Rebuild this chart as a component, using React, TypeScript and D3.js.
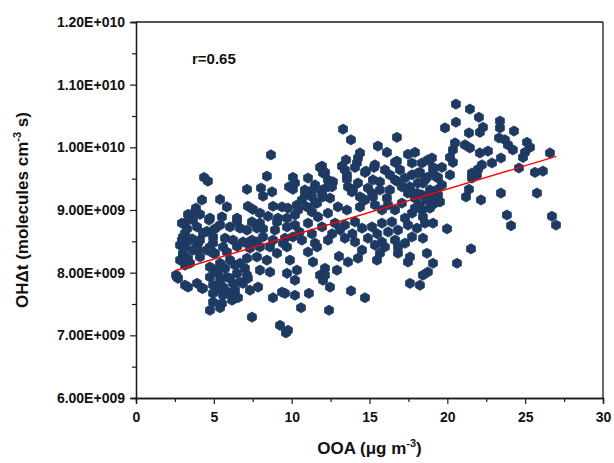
import * as d3 from 'd3';
import { useEffect, useRef } from 'react';

// OOA (ug m-3) vs OH exposure (x1e9 molecules cm-3 s)
const lowOOA: [number, number][] = [
  [8.67,9.88],[4.37,9.52],[4.62,9.46],[8.41,9.54],[9.83,9.37],[10.08,9.33],[7.13,9.33],[8.03,9.35],[8.74,9.29],[8.16,9.22],
  [4.24,9.16],[5.40,9.17],[5.84,9.05],[7.19,9.06],[7.51,9.01],[7.96,8.95],[8.80,9.06],[9.38,9.05],[9.76,9.03],[3.85,9.03],
  [3.34,8.93],[4.11,8.93],[3.79,8.97],[4.75,8.87],[5.52,8.89],[6.49,8.87],[8.48,8.90],[9.12,8.87],[3.66,8.84],[4.69,8.84],
  [5.40,8.76],[6.49,8.82],[7.45,8.81],[7.96,8.79],[9.06,8.81],[9.70,8.87],[10.21,8.92],[3.15,8.79],[3.28,8.70],[3.92,8.73],
  [4.56,8.66],[5.07,8.70],[6.04,8.73],[6.68,8.71],[7.13,8.68],[7.77,8.71],[8.16,8.70],[8.93,8.68],[9.70,8.73],[10.21,8.76],
  [3.02,8.57],[3.60,8.54],[4.11,8.52],[4.95,8.57],[5.72,8.55],[6.23,8.52],[6.87,8.49],[7.45,8.52],[8.16,8.57],[8.80,8.52],
  [9.57,8.55],[10.08,8.57],[3.15,8.41],[3.92,8.41],[4.75,8.41],[5.59,8.41],[6.49,8.42],[7.32,8.39],[7.96,8.41],[8.61,8.41],
  [9.70,8.41],[2.63,7.93],[2.83,8.44],[3.28,8.49],[3.66,8.36],[3.02,8.28],[4.11,8.25],[3.47,8.15],[4.95,8.47],[5.07,8.31],
  [5.84,8.33],[7.13,8.47],[7.77,8.49],[9.44,8.47],[4.75,8.09],[5.40,8.15],[6.04,8.20],[6.68,8.15],[7.13,8.23],[7.77,8.25],
  [8.41,8.20],[9.06,8.31],[9.89,8.20],[4.75,7.93],[5.27,7.99],[5.84,7.93],[6.49,7.99],[7.13,7.96],[7.96,8.04],[8.61,8.01],
  [9.70,7.99],[10.34,8.04],[3.34,7.77],[3.92,7.83],[4.30,7.75],[4.95,7.80],[5.59,7.77],[6.23,7.83],[6.87,7.83],[7.32,7.72],
  [7.84,7.77],[4.95,7.67],[5.59,7.64],[6.04,7.67],[6.55,7.60],[4.95,7.53],[5.40,7.44],[4.75,7.40],[7.45,7.29],[8.80,7.60],
  [9.38,7.69],[9.57,7.67],[10.21,7.64],[10.60,7.44],[9.25,7.16],[9.63,7.04],[9.76,7.08],[2.57,7.96],[2.70,7.91],[4.24,7.75],
  [3.15,7.80],[2.95,8.79],[3.15,8.63],[2.95,8.52],[3.02,8.31],[3.34,8.23],[2.83,8.20],[3.15,8.12],[4.30,8.63],[3.98,8.47],
  [3.98,8.36],[4.56,8.36],[4.95,8.31],[5.07,8.04],[5.72,8.07],[6.36,8.12],[7.00,8.07],[5.40,7.88],[6.04,7.91],[6.68,7.85],
  [7.19,7.91],[5.72,7.72],[5.27,7.75],[6.36,7.72],[6.17,7.56],[5.52,7.51]
];

const midOOA: [number, number][] = [
  [13.30,10.29],[13.81,10.12],[16.76,10.16],[15.54,10.02],[16.12,9.92],[14.39,9.91],[16.76,9.78],[14.26,9.83],[14.19,9.75],[13.49,9.80],
  [13.23,9.70],[17.47,9.89],[17.92,9.92],[19.01,9.83],[17.73,9.75],[11.95,9.70],[12.01,9.59],[14.77,9.62],[15.29,9.68],[10.08,9.52],
  [11.05,9.51],[16.76,9.46],[13.42,9.64],[13.55,9.49],[13.62,9.37],[13.87,9.29],[12.65,9.45],[12.33,9.37],[11.95,9.32],[11.37,9.32],
  [11.30,9.21],[10.85,9.24],[15.22,9.48],[15.67,9.45],[14.90,9.35],[15.67,9.32],[16.31,9.32],[16.12,9.19],[15.22,9.21],[14.39,9.21],
  [14.39,9.05],[19.08,9.68],[19.33,9.52],[18.69,9.52],[18.24,9.60],[18.43,9.43],[17.60,9.37],[18.05,9.27],[18.88,9.32],[19.33,9.32],
  [10.34,9.08],[10.98,9.05],[11.63,9.11],[12.01,9.21],[16.64,9.76],[18.37,9.75],[18.75,9.80],[11.82,9.68],[12.14,9.60],[14.07,9.68],
  [14.71,9.60],[15.35,9.72],[10.21,9.43],[11.50,9.40],[12.33,9.48],[12.59,9.37],[13.55,9.56],[13.94,9.32],[14.26,9.43],[15.16,9.27],
  [16.64,9.48],[17.08,9.37],[17.73,9.56],[18.11,9.59],[19.08,9.59],[10.85,9.32],[11.95,9.24],[12.46,9.19],[11.50,9.11],[10.66,9.16],
  [10.41,9.00],[11.30,8.97],[11.69,8.89],[12.33,8.95],[12.97,9.05],[13.55,9.00],[14.71,9.16],[15.35,9.08],[15.80,9.00],[16.19,9.08],
  [16.64,9.00],[17.08,9.11],[17.47,9.27],[17.92,9.19],[18.37,9.24],[18.88,9.21],[19.01,9.08],[18.37,9.00],[17.73,8.95],[17.28,8.87],
  [11.05,8.79],[11.95,8.73],[12.78,8.79],[13.42,8.76],[14.07,8.81],[14.52,8.71],[15.16,8.73],[15.80,8.79],[16.44,8.81],[16.83,8.68],
  [17.47,8.76],[18.05,8.71],[18.56,8.79],[19.08,8.79],[10.66,8.52],[11.50,8.47],[12.33,8.52],[13.42,8.55],[14.07,8.49],[14.90,8.55],
  [15.80,8.49],[16.64,8.52],[17.28,8.47],[17.73,8.57],[18.43,8.55],[12.40,7.40],[11.11,7.67],[14.71,7.60],[13.81,7.71],[12.46,7.77],
  [12.01,7.88],[12.14,8.07],[12.91,8.04],[11.82,7.96],[13.04,8.26],[13.62,8.17],[14.26,8.23],[11.37,8.17],[10.21,7.88],[17.60,7.83],
  [18.24,7.80],[18.43,7.96],[18.75,8.01],[19.08,8.15],[18.69,8.31],[17.47,8.17],[16.83,8.31],[17.60,8.25],[15.48,8.20],[15.67,8.31],
  [14.52,8.36],[16.83,8.41],[15.99,8.41],[15.35,8.44],[11.63,8.41],[11.05,8.33],[12.14,7.96],
  [18.24,9.08],[17.92,9.03],[19.40,9.24],[19.65,9.40],[18.11,9.43],[17.28,9.51],[16.96,9.64],[16.31,9.56],[15.99,9.64],
  [10.50,8.65],[11.30,8.62],[12.60,8.62],[13.10,8.68],[13.90,8.62],[15.50,8.62],[16.20,8.65]
];

const highOOA: [number, number][] = [
  [20.55,10.69],[21.45,10.61],[22.03,10.48],[20.55,10.40],[19.85,10.31],[22.29,10.32],[22.09,10.24],[21.39,10.23],[23.38,10.42],[23.38,10.31],
  [24.28,10.26],[23.32,10.15],[23.70,10.12],[23.89,10.04],[24.21,9.96],[25.11,10.08],[25.31,10.00],[24.99,9.92],[24.86,9.84],[26.59,9.91],
  [20.49,10.07],[20.36,9.96],[20.17,9.84],[20.36,9.76],[21.13,10.04],[21.45,9.99],[22.09,9.91],[22.61,9.94],[22.87,9.75],[22.22,9.72],
  [21.97,9.65],[21.58,9.59],[21.58,9.51],[21.90,9.56],[23.44,9.83],[24.60,9.67],[25.63,9.60],[26.14,9.62],[19.65,9.68],[19.40,9.52],
  [20.17,9.56],[18.56,9.48],[18.69,9.16],[19.20,9.11],[19.53,9.13],[18.88,9.03],[18.43,8.89],[21.39,9.33],[21.20,9.21],[22.16,9.16],
  [23.44,9.27],[25.76,9.27],[23.83,8.92],[24.09,8.75],[26.72,8.90],[26.98,8.76],[19.98,8.70],[21.52,8.38],[20.62,8.15]
];

// linear fit drawn in the figure (r = 0.65)
const fitRange = [2.5, 27.0];
const fitSlope = 0.0745;
const fitIntercept = 7.844;

const xTicks = [0, 5, 10, 15, 20, 25, 30];
const yTicks = [6, 7, 8, 9, 10, 11, 12];

export default function App() {
  const svgRef = useRef<SVGSVGElement>(null);

  useEffect(() => {
    document.body.style.margin = '0';
    drawChart(svgRef.current!);
  }, []);

  return <svg ref={svgRef} width={614} height={463} style={{ display: 'block', background: '#fff' }} />;
}

function drawChart(el: SVGSVGElement) {
  const left = 136, right = 603, top = 22, bottom = 398;
  const font = "'Liberation Sans', Arial, sans-serif";
  const ink = '#1b1b1b';

  const svg = d3.select(el);
  svg.selectAll('*').remove();

  const x = d3.scaleLinear().domain([0, 30]).range([left, right]);
  const y = d3.scaleLinear().domain([6, 12]).range([bottom, top]);

  const sci = (v: number) => {
    const n = Math.round(v * 1e9);
    const e = Math.floor(Math.log10(n) + 1e-9);
    const m = n / Math.pow(10, e);
    return m.toFixed(2) + 'E+' + String(e).padStart(3, '0');
  };

  // frame
  svg.append('line').attr('x1', left).attr('x2', right).attr('y1', top).attr('y2', top)
    .attr('stroke', ink).attr('stroke-width', 1.3);
  svg.append('line').attr('x1', right).attr('x2', right).attr('y1', top).attr('y2', bottom)
    .attr('stroke', ink).attr('stroke-width', 1.3);

  const xAxis = svg.append('g').attr('transform', `translate(0,${bottom})`)
    .call(d3.axisBottom(x).tickValues(xTicks).tickSize(6).tickPadding(8).tickFormat(d3.format('d')));
  svg.append('g').attr('transform', `translate(0,${bottom})`)
    .call(d3.axisBottom(x).tickValues(xTicks.slice(0, -1).map(d => d + 2.5)).tickSize(4).tickFormat(() => ''));

  const yAxis = svg.append('g').attr('transform', `translate(${left},0)`)
    .call(d3.axisLeft(y).tickValues(yTicks).tickSize(6).tickPadding(5).tickFormat(d => sci(+d)));
  svg.append('g').attr('transform', `translate(${left},0)`)
    .call(d3.axisLeft(y).tickValues(yTicks.slice(0, -1).map(d => d + 0.5)).tickSize(4).tickFormat(() => ''));

  svg.selectAll('.domain').attr('stroke', ink).attr('stroke-width', 1.3);
  svg.selectAll('.tick line').attr('stroke', ink).attr('stroke-width', 1.2);
  [xAxis, yAxis].forEach(g => g.selectAll('text')
    .attr('font-family', font).attr('font-size', 14).attr('font-weight', 'bold').attr('fill', '#111'));

  // hexagon markers
  const r = 5.1;
  const hex = d3.line().curve(d3.curveLinearClosed)(
    d3.range(6).map(i => {
      const a = (Math.PI / 3) * i - Math.PI / 2;
      return [r * Math.cos(a), r * Math.sin(a)] as [number, number];
    })
  );

  const points = [...lowOOA, ...midOOA, ...highOOA];
  svg.append('g').selectAll('path').data(points).join('path')
    .attr('d', hex)
    .attr('transform', d => `translate(${x(d[0])},${y(d[1])})`)
    .attr('fill', '#1e3a62')
    .attr('stroke', '#1e3a62')
    .attr('stroke-width', 0.8);

  const fit = d3.line<number>().x(d => x(d)).y(d => y(fitIntercept + fitSlope * d));
  svg.append('path').datum(fitRange).attr('d', fit)
    .attr('fill', 'none').attr('stroke', '#ff0000').attr('stroke-width', 1.4);

  svg.append('text').attr('x', 192).attr('y', 64)
    .attr('font-family', font).attr('font-size', 15).attr('font-weight', 'bold').attr('fill', '#111')
    .text('r=0.65');

  // axis titles
  const xt = svg.append('text').attr('x', (left + right) / 2).attr('y', 454)
    .attr('text-anchor', 'middle').attr('font-family', font).attr('font-size', 17)
    .attr('font-weight', 'bold').attr('fill', '#111');
  xt.append('tspan').text('OOA (μg m');
  xt.append('tspan').attr('dy', -7).attr('font-size', 11).text('-3');
  xt.append('tspan').attr('dy', 7).text(')');

  const yt = svg.append('text').attr('transform', `translate(28,${(top + bottom) / 2}) rotate(-90)`)
    .attr('text-anchor', 'middle').attr('font-family', font).attr('font-size', 17)
    .attr('font-weight', 'bold').attr('fill', '#111');
  yt.append('tspan').text('OHΔt (molecules cm');
  yt.append('tspan').attr('dy', -7).attr('font-size', 11).text('-3');
  yt.append('tspan').attr('dy', 7).text(' s)');
}
